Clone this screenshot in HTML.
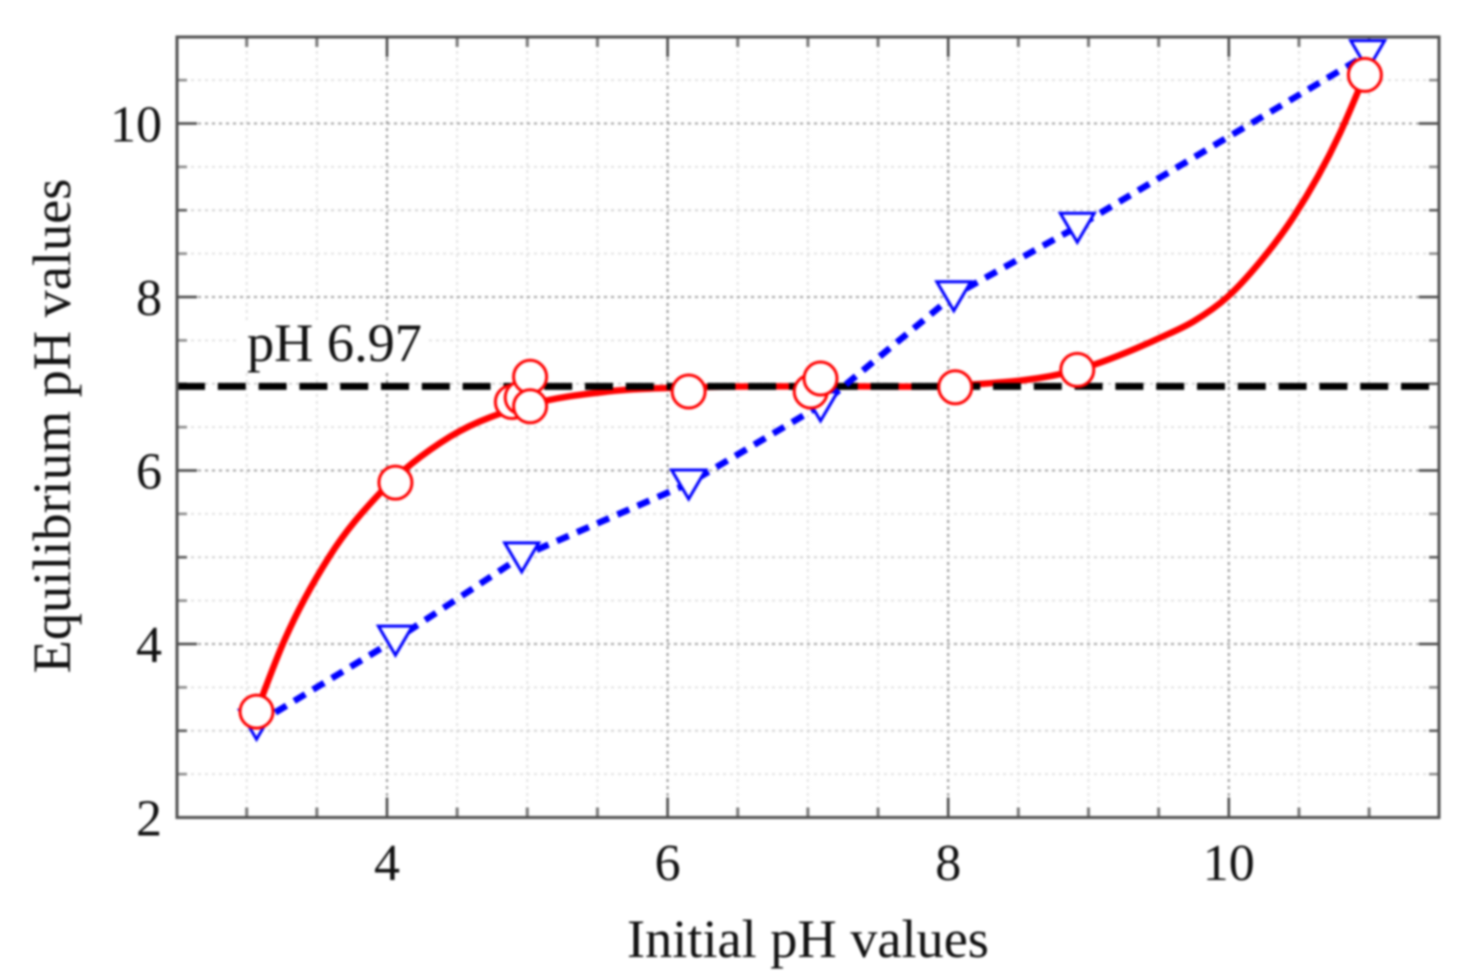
<!DOCTYPE html>
<html lang="en">
<head>
<meta charset="utf-8">
<title>Equilibrium pH vs initial pH</title>
<style>
html,body{margin:0;padding:0;background:#fff;}
body{width:1459px;height:974px;overflow:hidden;}
svg{display:block;filter:blur(1px);}
text{font-family:"Liberation Serif",serif;fill:#111;}
</style>
</head>
<body>
<svg id="chart" width="1459" height="974" viewBox="0 0 1459 974" xmlns="http://www.w3.org/2000/svg">
<defs><clipPath id="plot-clip"><rect x="177" y="37" width="1262" height="780.5"></rect></clipPath></defs>
<g id="grid"></g>
<g id="ticks"></g>
<rect x="236" y="322" width="190" height="50" fill="#fff"></rect>
<text x="247" y="361" font-size="54.3">pH 6.97</text>
<g id="marks" clip-path="url(#plot-clip)"></g>
<rect x="177" y="37" width="1262" height="780.5" fill="none" stroke="#505050" stroke-width="3"></rect>
<g id="labels"></g>
<text x="808" y="957" font-size="54.3" text-anchor="middle">Initial pH values</text>
<text transform="translate(70,426) rotate(-90)" font-size="54.3" text-anchor="middle">Equilibrium pH values</text>
</svg>
<script>
const xTickLabels = [4, 6, 8, 10];
const yTickLabels = [2, 4, 6, 8, 10];
const referenceLevel = [6.97];
const redX = [3.07, 4.06, 4.89, 4.96, 5.02, 5.02, 6.15, 7.02, 7.09, 8.05, 8.92, 10.97];
const redY = [3.22, 5.86, 6.79, 6.84, 7.08, 6.74, 6.91, 6.91, 7.06, 6.96, 7.16, 10.56];
const redCurveX = [3.07, 3.26, 3.59, 3.95, 4.45, 5.02, 5.57, 6.23, 7.30, 8.05, 8.92, 9.51, 9.75, 9.99, 10.22, 10.46, 10.79, 10.97];
const redCurveY = [3.22, 4.01, 5.01, 5.74, 6.39, 6.76, 6.91, 6.96, 6.97, 6.98, 7.16, 7.53, 7.72, 8.00, 8.40, 8.92, 9.88, 10.56];
const blueX = [3.07, 4.06, 4.96, 6.15, 7.09, 8.04, 8.92, 10.99];
const blueY = [3.08, 4.05, 5.01, 5.85, 6.75, 8.02, 8.81, 10.80];

const SVG_NS = 'http://www.w3.org/2000/svg';
const sx = v => 387 + (v - 4) * 140.3;
const sy = v => 817.5 - (v - 2) * 86.75;

function make(tag, parent, attrs) {
  const el = document.createElementNS(SVG_NS, tag);
  for (const k in attrs) el.setAttribute(k, attrs[k]);
  parent.appendChild(el);
  return el;
}

const grid = document.getElementById('grid');
const ticks = document.getElementById('ticks');
const labels = document.getElementById('labels');
const marks = document.getElementById('marks');

for (let i = 0; i <= 18; i++) {
  const v = 2.5 + i * 0.5;
  if (v <= 2.5 || v >= 11.5) continue;
  const major = xTickLabels.includes(v);
  const x = sx(v);
  const g = make('line', grid, {x1: x, x2: x, y1: 37, y2: 817.5, stroke: major ? '#939393' : '#e2e2e2', 'stroke-width': 2, 'stroke-dasharray': '3 4'});
  
  
  const len = major ? 20 : 10;
  const col = major ? '#444' : '#777';
  const w = major ? 2.5 : 3;
  const t1 = make('line', ticks, {x1: x, x2: x, y1: 817.5, y2: 817.5 - len, stroke: col, 'stroke-width': w});
  
  
  const t2 = make('line', ticks, {x1: x, x2: x, y1: 37, y2: 37 + len, stroke: col, 'stroke-width': w});
  
  
}

for (let i = 1; i < 18; i++) {
  const v = 2 + i * 0.5;
  const major = yTickLabels.includes(v);
  const odd = Number.isInteger(v) && !major;
  const y = sy(v);
  const g = make('line', grid, {x1: 177, x2: 1439, y1: y, y2: y, stroke: major ? '#a0a0a0' : (odd ? '#d0d0d0' : '#e2e2e2'), 'stroke-width': 2, 'stroke-dasharray': '3 4'});
  
  
  const len = major ? 20 : 10;
  const col = major ? '#444' : (odd ? '#555' : '#888');
  const t1 = make('line', ticks, {x1: 177, x2: 177 + len, y1: y, y2: y, stroke: col, 'stroke-width': 2.5});
  
  
  const t2 = make('line', ticks, {x1: 1439, x2: 1439 - len, y1: y, y2: y, stroke: col, 'stroke-width': 2.5});
  
  
}

xTickLabels.forEach(v => {
  const t = make('text', labels, {x: sx(v), y: 880, 'font-size': 52, 'text-anchor': 'middle'});
  t.textContent = String(v);
  
  
});
yTickLabels.forEach(v => {
  const t = make('text', labels, {x: 162, y: sy(v) + 18, 'font-size': 52, 'text-anchor': 'end'});
  t.textContent = String(v);
  
  
});

function smoothPath(xs, ys) {
  const p = xs.map((v, i) => [sx(v), sy(ys[i])]);
  const n = p.length;
  const h = [], s = [];
  for (let i = 0; i < n - 1; i++) {
    h.push(p[i + 1][0] - p[i][0]);
    s.push((p[i + 1][1] - p[i][1]) / h[i]);
  }
  const m = new Array(n);
  for (let i = 1; i < n - 1; i++) {
    m[i] = (h[i - 1] * s[i] + h[i] * s[i - 1]) / (h[i - 1] + h[i]);
  }
  m[0] = s[0] + (s[0] - m[1]) * 0.5;
  m[n - 1] = s[n - 2] + (s[n - 2] - m[n - 2]) * 0.5;
  let d = 'M' + p[0][0] + ' ' + p[0][1];
  for (let i = 0; i < n - 1; i++) {
    d += ' C' + (p[i][0] + h[i] / 3) + ' ' + (p[i][1] + m[i] * h[i] / 3) + ' ' +
         (p[i + 1][0] - h[i] / 3) + ' ' + (p[i + 1][1] - m[i + 1] * h[i] / 3) + ' ' +
         p[i + 1][0] + ' ' + p[i + 1][1];
  }
  return d;
}

const redLine = make('path', marks, {d: smoothPath(redCurveX, redCurveY), fill: 'none', stroke: '#ff0000', 'stroke-width': 6.5});



const refLine = make('line', marks, {x1: 177, x2: 1439, y1: sy(referenceLevel[0]), y2: sy(referenceLevel[0]), stroke: '#000', 'stroke-width': 7, 'stroke-dasharray': '28 12.8'});



const blueLine = make('polyline', marks, {points: blueX.map((v, i) => sx(v) + ',' + sy(blueY[i])).join(' '), fill: 'none', stroke: '#0000ff', 'stroke-width': 6.5, 'stroke-dasharray': '13 9'});



blueX.forEach((v, i) => {
  const x = sx(v), y = sy(blueY[i]);
  const tri = make('polygon', marks, {points: [[x - 17, y - 13.5], [x + 17, y - 13.5], [x, y + 15.5]].map(q => q.join(',')).join(' '), fill: '#fff', stroke: '#0000ff', 'stroke-width': 3});
  
  
});

redX.forEach((v, i) => {
  const c = make('circle', marks, {cx: sx(v), cy: sy(redY[i]), r: 16.5, fill: '#fff', stroke: '#ff0000', 'stroke-width': 3});
  
  
});
</script>
</body>
</html>
